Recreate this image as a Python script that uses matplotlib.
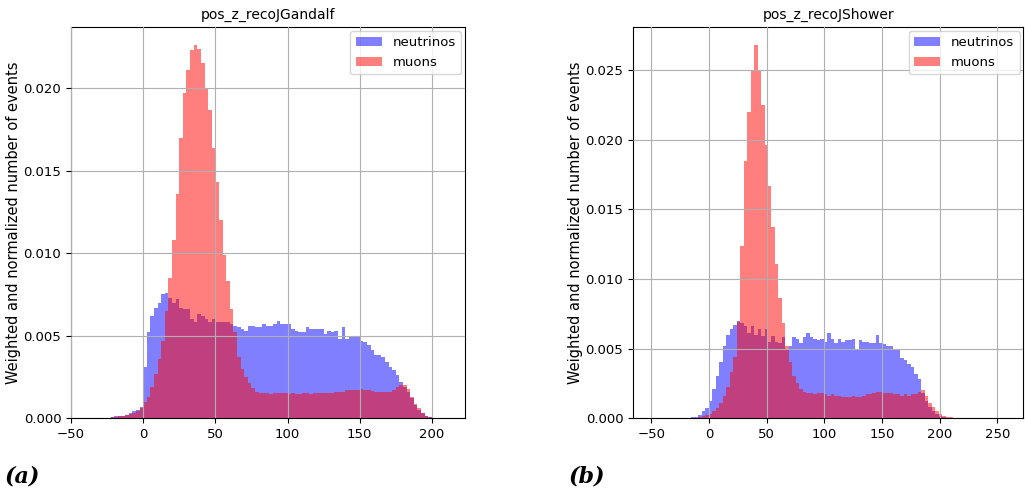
import numpy as np
import matplotlib
matplotlib.use("Agg")
import matplotlib.pyplot as plt

# bin edges of the two histograms
edges_a = np.linspace(-22.5, 202.5, 91)
edges_b = np.linspace(-15.15, 214.13, 77)

# pos_z_recoJGandalf
nu_a = [0.00005, 0.0001, 0.0001, 0.00015, 0.0002, 0.0003, 0.0004, 0.0005, 0.0007,
        0.0031, 0.0052, 0.0062, 0.0067, 0.0070, 0.0075, 0.0076, 0.0073, 0.0070, 0.0072,
        0.0067, 0.0066, 0.0066, 0.0060, 0.0058, 0.0063, 0.0062, 0.0060, 0.0058, 0.0060,
        0.0058, 0.0058, 0.0058, 0.0058, 0.0057, 0.0056, 0.0055, 0.0054, 0.0053, 0.0056,
        0.0056, 0.0055, 0.0055, 0.0057, 0.0056, 0.0056, 0.0057, 0.0059, 0.0057, 0.0057,
        0.0057, 0.0054, 0.0053, 0.0052, 0.0052, 0.0055, 0.0054, 0.0054, 0.0054, 0.0054,
        0.0051, 0.0053, 0.0052, 0.0053, 0.0048, 0.0055, 0.0048, 0.0049, 0.0050, 0.0049,
        0.0047, 0.0046, 0.0044, 0.0041, 0.0038, 0.0038, 0.0037, 0.0034, 0.0031, 0.0029,
        0.0026, 0.0022, 0.0019, 0.0016, 0.0012, 0.0008, 0.0005, 0.0003, 0.0001, 0.00005, 0.0]
mu_a = [0.00005, 0.00008, 0.0001, 0.00015, 0.0002, 0.00025, 0.0003, 0.0004, 0.0006,
        0.0010, 0.0013, 0.0019, 0.0027, 0.0036, 0.0047, 0.0065, 0.0085, 0.0108, 0.0136,
        0.0170, 0.0197, 0.0211, 0.0223, 0.0226, 0.0224, 0.0215, 0.0200, 0.0187, 0.0164,
        0.0143, 0.0120, 0.0099, 0.0083, 0.0066, 0.0052, 0.0037, 0.0030, 0.0025, 0.0021,
        0.0018, 0.0016, 0.0015, 0.0015, 0.0015, 0.00148, 0.0015, 0.0015, 0.00152, 0.0015,
        0.00148, 0.0015, 0.00147, 0.00148, 0.0015, 0.0015, 0.00147, 0.0015, 0.0015, 0.00152,
        0.0015, 0.00153, 0.00152, 0.00155, 0.0016, 0.0016, 0.0017, 0.0017, 0.00168, 0.00172,
        0.00176, 0.0017, 0.0017, 0.00165, 0.0016, 0.0016, 0.00155, 0.0016, 0.00155, 0.0017,
        0.0019, 0.0020, 0.0020, 0.00176, 0.0013, 0.00087, 0.0006, 0.0003, 0.00014, 0.00006, 0.00002]

# pos_z_recoJShower
nu_b = [0.00005, 0.0001, 0.0002, 0.0005, 0.0007, 0.0012, 0.0021, 0.0030, 0.0040,
        0.0052, 0.0060, 0.0064, 0.0067, 0.0070, 0.0068, 0.0066, 0.0061, 0.0066, 0.0060,
        0.0064, 0.0059, 0.0064, 0.0055, 0.0059, 0.0055, 0.0054, 0.0058, 0.0050, 0.0052,
        0.0058, 0.0057, 0.0054, 0.0058, 0.0061, 0.0058, 0.0057, 0.0056, 0.0057, 0.0055,
        0.0061, 0.0057, 0.0054, 0.0057, 0.0055, 0.0056, 0.0056, 0.0057, 0.0050, 0.0056,
        0.0055, 0.0055, 0.0054, 0.0054, 0.0060, 0.0054, 0.0053, 0.0052, 0.0052, 0.0049,
        0.0049, 0.0043, 0.0042, 0.0039, 0.0037, 0.0032, 0.0028, 0.0018, 0.0012, 0.0008,
        0.0005, 0.0003, 0.00015, 0.00005, 0.0, 0.0, 0.0]
mu_b = [0.0, 0.00002, 0.00005, 0.00012, 0.00025, 0.0003, 0.0005, 0.0007, 0.0011,
        0.0016, 0.0022, 0.0033, 0.0044, 0.0069, 0.0124, 0.0185, 0.0220, 0.0250, 0.0268,
        0.0250, 0.0225, 0.0196, 0.0167, 0.0137, 0.0111, 0.0086, 0.0068, 0.0052, 0.0040,
        0.0030, 0.0025, 0.0021, 0.0019, 0.0018, 0.0018, 0.0017, 0.0018, 0.0018, 0.0017,
        0.0016, 0.0017, 0.0016, 0.0016, 0.0015, 0.0015, 0.0015, 0.0016, 0.0015, 0.0015,
        0.0016, 0.0017, 0.0017, 0.0018, 0.0019, 0.0019, 0.0018, 0.0018, 0.0018, 0.0017,
        0.0017, 0.0016, 0.0017, 0.0016, 0.0017, 0.0017, 0.0019, 0.0020, 0.00155, 0.0011,
        0.0008, 0.0005, 0.0003, 0.00017, 0.0001, 0.00005, 0.00002]

titles = ["pos_z_recoJGandalf", "pos_z_recoJShower"]
panel_labels = ["(a)", "(b)"]

fig = plt.figure(figsize=(10.25, 4.93), dpi=100)
ax_a = fig.add_axes([0.0693, 0.152, 0.3844, 0.793])
ax_b = fig.add_axes([0.6176, 0.152, 0.3809, 0.793])

panels = [
    (ax_a, edges_a, nu_a, mu_a, (-50, 223), 0.0237),
    (ax_b, edges_b, nu_b, mu_b, (-65.7, 272.5), 0.0281),
]

for i, (ax, edges, nu, mu, xlim, ytop) in enumerate(panels):
    ax.hist(edges[:-1], bins=edges, weights=nu, color="blue", alpha=0.5, label="neutrinos")
    ax.hist(edges[:-1], bins=edges, weights=mu, color="red", alpha=0.5, label="muons")
    ax.set_xlim(*xlim)
    ax.set_ylim(0, ytop)
    ax.set_title(titles[i], fontsize=10)
    ax.set_ylabel("Weighted and normalized number of events", fontsize=10.5, labelpad=2)
    ax.yaxis.set_major_formatter(matplotlib.ticker.FormatStrFormatter("%.3f"))
    ax.tick_params(labelsize=9.5)
    ax.grid(True)
    ax.set_axisbelow(False)
    ax.legend(loc="upper right", fontsize=9.5, borderaxespad=0.3)

fig.text(0.005, 0.022, panel_labels[0], fontsize=16, fontweight="bold",
         fontstyle="italic", family="DejaVu Serif")
fig.text(0.555, 0.022, panel_labels[1], fontsize=16, fontweight="bold",
         fontstyle="italic", family="DejaVu Serif")

fig.savefig("out.png", dpi=100)
